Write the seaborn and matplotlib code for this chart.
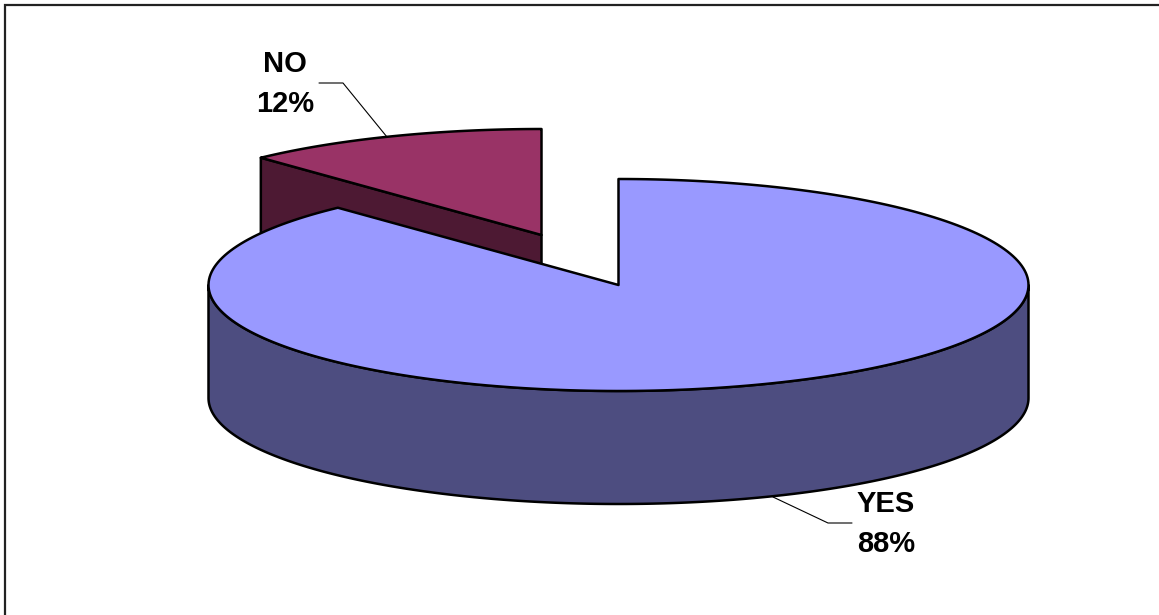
import numpy as np
import matplotlib
matplotlib.use("Agg")
import matplotlib.pyplot as plt
from matplotlib.patches import Polygon
import seaborn as sns

labels = ["YES", "NO"]
shares = [88, 12]
top_colors = ["#9999FF", "#993366"]
side_colors = ["#4D4D80", "#4D1933"]

sns.set_theme(style="white")
plt.rcParams["font.family"] = ["Liberation Sans", "DejaVu Sans"]
top_pal = sns.color_palette(top_colors)
side_pal = sns.color_palette(side_colors)

W, H = 1159, 615
fig = plt.figure(figsize=(W / 100, H / 100), dpi=100, facecolor="white")
ax = fig.add_axes([0, 0, 1, 1])
ax.set_xlim(0, W)
ax.set_ylim(H, 0)
ax.axis("off")

# projection of the pie
CX, CY, RX, RY, DEPTH = 618.5, 285, 410, 106, 113
EXPLODE = (-77, -50)
LW = 1.8
EDGE = "#000000"

start = 90.0
end_yes = start - 360 * shares[0] / sum(shares)  # clockwise


def pts(a0, a1, cx, cy, dy=0, n=240):
    t = np.radians(np.linspace(a0, a1, n))
    return np.column_stack([cx + RX * np.cos(t), cy - RY * np.sin(t) + dy])


def poly(xy, color, z):
    ax.add_patch(Polygon(xy, closed=True, facecolor=color, edgecolor=EDGE,
                         linewidth=LW, joinstyle="round", zorder=z))


# NO slice (exploded)
nx, ny = CX + EXPLODE[0], CY + EXPLODE[1]
no_rim = pts(end_yes, end_yes - 360 * shares[1] / sum(shares), nx, ny)
apex = np.array([[nx, ny]])
cut = np.vstack([apex, no_rim[:1], no_rim[:1] + [0, DEPTH], apex + [0, DEPTH]])
poly(cut, side_pal[1], 1)
poly(np.vstack([apex, no_rim]), top_pal[1], 2)

# YES slice
wall_top = pts(180, 360, CX, CY)
wall_bot = pts(360, 180, CX, CY, DEPTH)
poly(np.vstack([wall_top, wall_bot]), side_pal[0], 3)
poly(np.vstack([[[CX, CY]], pts(start, end_yes, CX, CY)]), top_pal[0], 4)

# leader lines
ax.plot([319, 343, 387], [83, 83, 137], color=EDGE, lw=0.8, zorder=5)
ax.plot([773, 828, 852], [497, 523, 523], color=EDGE, lw=0.8, zorder=5)

# data labels
label_pos = [(886, 524), (285, 84)]
for lab, val, (x, y) in zip(labels, shares, label_pos):
    ax.text(x, y, f"{lab}\n{val}%", ha="center", va="center", fontsize=21,
            fontweight="bold", color="black", linespacing=1.51, zorder=6)

# chart frame: only the left and top edges show
ax.plot([5, 5, W], [H, 5, 5], color="#222222", lw=1.6, zorder=7,
        solid_joinstyle="miter")

fig.savefig("out.png", dpi=100, facecolor="white")
